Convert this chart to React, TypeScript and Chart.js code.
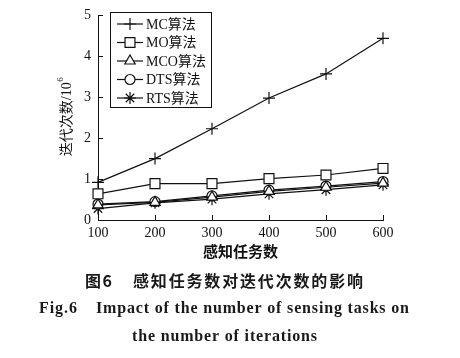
import React, { useEffect, useRef } from 'react';
import { Chart, registerables } from 'chart.js';

Chart.register(...registerables);

const tasks = [100, 200, 300, 400, 500, 600];
const mcValues = [0.92, 1.5, 2.23, 2.98, 3.57, 4.44];
const moValues = [0.64, 0.89, 0.89, 1.01, 1.1, 1.26];
const mcoValues = [0.37, 0.43, 0.56, 0.7, 0.8, 0.9];
const dtsValues = [0.39, 0.45, 0.59, 0.73, 0.83, 0.94];
const rtsValues = [0.28, 0.42, 0.51, 0.64, 0.74, 0.86];
const seriesNames = ['MC算法', 'MO算法', 'MCO算法', 'DTS算法', 'RTS算法'];
const pointStyles = ['cross', 'rect', 'triangle', 'circle', 'star'];
const pointRadii = [6, 7, 6, 5, 6];
const xTicks = [100, 200, 300, 400, 500, 600];
const yTicks = [0, 1, 2, 3, 4, 5];
const xTitle = '感知任务数';
const yTitle = '迭代次数/10';
const yTitleSup = '6';
const captionCnA = '图 6';
const captionCnB = '感知任务数对迭代次数的影响';
const captionEnA = 'Fig.6';
const captionEnB = 'Impact of the number of sensing tasks on';
const captionEnC = 'the number of iterations';

const SERIF = "'Liberation Serif', 'Times New Roman', 'Noto Sans CJK SC', serif";
const CJK = "'Noto Sans CJK SC', 'Liberation Serif', sans-serif";
const INK = '#111';

function drawMarker(ctx: CanvasRenderingContext2D, style: string, x: number, y: number, r: number) {
  ctx.beginPath();
  if (style === 'cross') {
    ctx.moveTo(x - r, y); ctx.lineTo(x + r, y);
    ctx.moveTo(x, y - r); ctx.lineTo(x, y + r);
    ctx.stroke();
  } else if (style === 'rect') {
    const s = Math.SQRT1_2 * r;
    ctx.rect(x - s, y - s, 2 * s, 2 * s);
    ctx.fill(); ctx.stroke();
  } else if (style === 'triangle') {
    const a = Math.PI / 2;
    ctx.moveTo(x + Math.sin(0) * r, y - Math.cos(0) * r);
    ctx.lineTo(x + Math.sin(a + Math.PI / 6 * 4 - a) * r, y - Math.cos(Math.PI * 2 / 3) * r);
    ctx.lineTo(x - Math.sin(Math.PI * 2 / 3) * r, y - Math.cos(Math.PI * 2 / 3) * r);
    ctx.closePath();
    ctx.fill(); ctx.stroke();
  } else if (style === 'circle') {
    ctx.arc(x, y, r, 0, Math.PI * 2);
    ctx.fill(); ctx.stroke();
  } else if (style === 'star') {
    ctx.moveTo(x - r, y); ctx.lineTo(x + r, y);
    ctx.moveTo(x, y - r); ctx.lineTo(x, y + r);
    const o = Math.cos(Math.PI / 4) * r;
    ctx.moveTo(x - o, y - o); ctx.lineTo(x + o, y + o);
    ctx.moveTo(x - o, y + o); ctx.lineTo(x + o, y - o);
    ctx.stroke();
  }
}

function drawFit(ctx: CanvasRenderingContext2D, text: string, x0: number, x1: number, y: number) {
  const chars = Array.from(text);
  let w = 0;
  const ws = chars.map((c) => ctx.measureText(c).width);
  ws.forEach((v) => (w += v));
  const gap = chars.length > 1 ? (x1 - x0 - w) / (chars.length - 1) : 0;
  let x = x0;
  ctx.textAlign = 'left';
  chars.forEach((c, i) => {
    ctx.fillText(c, x, y);
    x += ws[i] + gap;
  });
}

const decorPlugin = {
  id: 'decor',
  afterDraw(chart: any) {
    const ctx: CanvasRenderingContext2D = chart.ctx;
    const xs = chart.scales.x;
    const ys = chart.scales.y;
    const area = chart.chartArea;
    ctx.save();
    ctx.strokeStyle = INK;
    ctx.lineWidth = 1;
    // inward ticks
    ctx.beginPath();
    xTicks.forEach((v) => {
      const px = Math.round(xs.getPixelForValue(v)) + 0.5;
      ctx.moveTo(px, area.bottom);
      ctx.lineTo(px, area.bottom - 5);
    });
    yTicks.forEach((v) => {
      const py = Math.round(ys.getPixelForValue(v)) + 0.5;
      ctx.moveTo(area.left, py);
      ctx.lineTo(area.left + 5, py);
    });
    ctx.stroke();

    // legend
    const lx0 = 110.5, ly0 = 12.5, lx1 = 211.5, ly1 = 107.5;
    ctx.fillStyle = '#fff';
    ctx.fillRect(lx0, ly0, lx1 - lx0, ly1 - ly0);
    ctx.strokeRect(lx0, ly0, lx1 - lx0, ly1 - ly0);
    const rows = [24, 42.5, 61, 79.5, 98];
    ctx.font = `14px ${SERIF}`;
    ctx.textBaseline = 'middle';
    seriesNames.forEach((name, i) => {
      const y = rows[i];
      ctx.lineWidth = 1.2;
      ctx.strokeStyle = INK;
      ctx.beginPath();
      ctx.moveTo(117, y);
      ctx.lineTo(143, y);
      ctx.stroke();
      ctx.fillStyle = '#fff';
      drawMarker(ctx, pointStyles[i], 130, y, pointRadii[i]);
      ctx.fillStyle = INK;
      ctx.textAlign = 'left';
      ctx.fillText(name, 146, y + 1);
    });

    // x title
    ctx.fillStyle = INK;
    ctx.font = `bold 15px ${CJK}`;
    ctx.textAlign = 'center';
    ctx.textBaseline = 'middle';
    ctx.fillText(xTitle, (area.left + area.right) / 2, 251);

    // y title rotated
    ctx.save();
    ctx.translate(67, 117);
    ctx.rotate(-Math.PI / 2);
    ctx.font = `14px ${SERIF}`;
    const w1 = ctx.measureText(yTitle).width;
    ctx.font = `9px ${SERIF}`;
    const w2 = ctx.measureText(yTitleSup).width;
    const start = -(w1 + w2) / 2;
    ctx.font = `14px ${SERIF}`;
    ctx.textAlign = 'left';
    ctx.textBaseline = 'middle';
    ctx.fillText(yTitle, start, 0);
    ctx.font = `9px ${SERIF}`;
    ctx.fillText(yTitleSup, start + w1 + 0.5, -6);
    ctx.restore();

    // captions
    ctx.fillStyle = '#1a1a1a';
    ctx.textBaseline = 'middle';
    ctx.font = `bold 16px ${CJK}`;
    drawFit(ctx, captionCnA, 85, 112, 281);
    drawFit(ctx, captionCnB, 133, 363, 281);
    ctx.font = `bold 16px ${SERIF}`;
    drawFit(ctx, captionEnA, 39, 77, 309);
    drawFit(ctx, captionEnB, 96, 409, 309);
    drawFit(ctx, captionEnC, 132, 317, 337);
    ctx.restore();
  },
};

export default function App() {
  const ref = useRef<HTMLCanvasElement | null>(null);
  useEffect(() => {
    document.body.style.margin = '0';
    const canvas = ref.current!;
    const seriesValues = [mcValues, moValues, mcoValues, dtsValues, rtsValues];
    const chart = new Chart(canvas, {
      type: 'line',
      data: {
        datasets: seriesNames.map((name, i) => ({
          label: name,
          data: tasks.map((t, j) => ({ x: t, y: seriesValues[i][j] })),
          borderColor: INK,
          backgroundColor: '#fff',
          borderWidth: 1.2,
          pointStyle: pointStyles[i] as any,
          pointRadius: pointRadii[i],
          pointBorderWidth: 1.2,
          pointBorderColor: INK,
          pointBackgroundColor: '#fff',
          tension: 0,
          clip: false as any,
        })),
      },
      options: {
        animation: false,
        responsive: false,
        devicePixelRatio: 1,
        events: [],
        layout: { padding: { top: 13, right: 77, left: 0, bottom: 0 } },
        plugins: {
          legend: { display: false },
          tooltip: { enabled: false },
          title: { display: false },
        },
        scales: {
          x: {
            type: 'linear',
            min: 100,
            max: 600,
            afterFit: (s: any) => { s.height = 138; },
            afterBuildTicks: (s: any) => { s.ticks = xTicks.map((v) => ({ value: v })); },
            grid: { display: false, drawTicks: false },
            border: { display: true, color: INK, width: 1 },
            ticks: {
              color: INK,
              font: { family: SERIF, size: 14 },
              padding: 5,
              maxRotation: 0,
            },
          },
          y: {
            type: 'linear',
            min: 0,
            max: 5,
            afterFit: (s: any) => { s.width = 98; },
            afterBuildTicks: (s: any) => { s.ticks = yTicks.map((v) => ({ value: v })); },
            grid: { display: false, drawTicks: false },
            border: { display: true, color: INK, width: 1 },
            ticks: {
              color: INK,
              font: { family: SERIF, size: 14 },
              padding: 7,
            },
          },
        },
      },
      plugins: [decorPlugin],
    });
    return () => chart.destroy();
  }, []);
  return <canvas ref={ref} width={460} height={358} style={{ display: 'block' }} />;
}
